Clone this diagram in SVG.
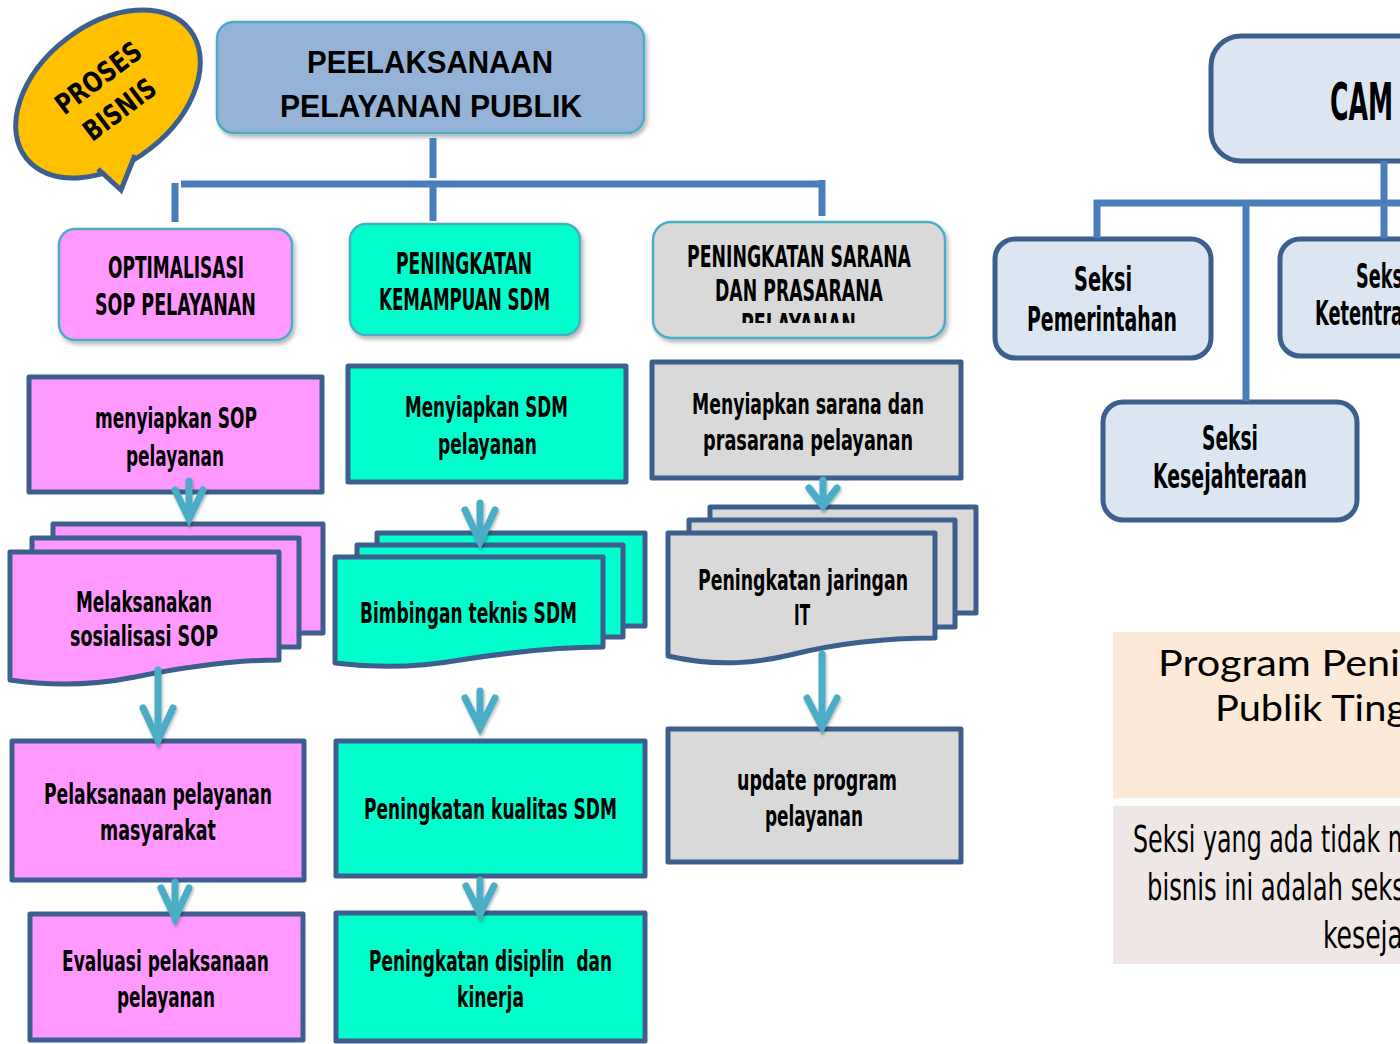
<svg xmlns="http://www.w3.org/2000/svg" width="1400" height="1044" viewBox="0 0 1400 1044">
<defs>
<filter id="sh" x="-10%" y="-10%" width="130%" height="140%"><feDropShadow dx="2" dy="3" stdDeviation="2" flood-color="#000" flood-opacity="0.3"/></filter>
<filter id="ash" x="-50%" y="-20%" width="200%" height="150%"><feDropShadow dx="1" dy="2" stdDeviation="1.5" flood-color="#000" flood-opacity="0.3"/></filter>
<clipPath id="clipL2"><rect x="653" y="222" width="293" height="101"/></clipPath>
<style>
.t{font-family:"Liberation Sans Narrow","DejaVu Sans Condensed","Liberation Sans",sans-serif;font-stretch:condensed;font-weight:bold;fill:#000;text-anchor:middle;font-size:28px}
.l2{font-size:30px}
.sk{font-size:33px}
.ttl{font-family:"Liberation Sans","Open Sans",sans-serif;font-weight:700;font-size:32px;text-anchor:middle;fill:#000}
.prg{font-family:Lato,"Open Sans","Liberation Sans",sans-serif;font-weight:normal;font-size:37px;fill:#000}
.nr{font-family:"Liberation Sans Narrow","DejaVu Sans Condensed","Liberation Sans",sans-serif;font-stretch:condensed;font-weight:normal;font-size:38px;fill:#000}
.lb{stroke:#4BACC6;stroke-width:2.5}
.db{stroke:#3C5F8E;stroke-width:5;stroke-linejoin:round}
.pk{fill:#FF99FF}
.cy{fill:#00FFCC}
.gr{fill:#D9D9D9}
.bl{fill:#DCE6F2}
.ln{stroke:#4A7EBB;stroke-width:7;fill:none}
.ar{stroke:#4BACC6;stroke-width:7;fill:none;stroke-linecap:round;stroke-linejoin:miter;stroke-miterlimit:10;filter:url(#ash)}
</style>
</defs>
<rect width="1400" height="1044" fill="#fff"/>

<g id="bubble">
<ellipse cx="108" cy="94" rx="104" ry="69" transform="rotate(-38 108 94)" fill="#FFC000" stroke="#3C5F8E" stroke-width="5"/>
<polygon points="94,160 121,190 140,148" fill="#FFC000"/>
<polyline points="98,169 121,190 135,155" fill="none" stroke="#3C5F8E" stroke-width="5" stroke-linejoin="miter"/>
<g transform="translate(108 94) rotate(-37)">
<text class="t" x="2" y="-9" textLength="100" lengthAdjust="spacingAndGlyphs">PROSES</text>
<text class="t" x="0" y="29" textLength="83" lengthAdjust="spacingAndGlyphs">BISNIS</text>
</g>
</g>

<g id="title">
<rect x="217" y="22" width="427" height="111" rx="17" fill="#95B3D7" class="lb" filter="url(#sh)"/>
<text class="ttl" x="430" y="73" textLength="246" lengthAdjust="spacingAndGlyphs">PEELAKSANAAN</text>
<text class="ttl" x="431" y="117" textLength="302" lengthAdjust="spacingAndGlyphs">PELAYANAN PUBLIK</text>
</g>

<g id="l2-sop">
<rect x="59" y="229" width="233" height="111" rx="16" class="pk lb" filter="url(#sh)"/>
<text class="t l2" x="176" y="278" textLength="136" lengthAdjust="spacingAndGlyphs">OPTIMALISASI</text>
<text class="t l2" x="175.5" y="315" textLength="161" lengthAdjust="spacingAndGlyphs">SOP PELAYANAN</text>
</g>
<g id="l2-sdm">
<rect x="350" y="224" width="230" height="111" rx="16" class="cy lb" filter="url(#sh)"/>
<text class="t l2" x="464" y="274" textLength="136" lengthAdjust="spacingAndGlyphs">PENINGKATAN</text>
<text class="t l2" x="464.5" y="310" textLength="171" lengthAdjust="spacingAndGlyphs">KEMAMPUAN SDM</text>
</g>
<g id="l2-sarana">
<rect x="653" y="222" width="292" height="116" rx="18" class="gr lb" filter="url(#sh)"/>
<text class="t l2" x="799" y="267" textLength="224" lengthAdjust="spacingAndGlyphs">PENINGKATAN SARANA</text>
<text class="t l2" x="799" y="301" textLength="168" lengthAdjust="spacingAndGlyphs">DAN PRASARANA</text>
<text class="t l2" x="798.5" y="335" textLength="115" lengthAdjust="spacingAndGlyphs" clip-path="url(#clipL2)">PELAYANAN</text>
</g>

<g id="c1-menyiapkan-sop">
<rect x="29" y="377" width="293" height="115" class="pk db"/>
<text class="t" x="176" y="428" textLength="162" lengthAdjust="spacingAndGlyphs">menyiapkan SOP</text>
<text class="t" x="175" y="466" textLength="98" lengthAdjust="spacingAndGlyphs">pelayanan</text>
</g>
<g id="c1-sosialisasi">
<rect x="53" y="524" width="270" height="109" class="pk db"/>
<rect x="32" y="538" width="267" height="109" class="pk db"/>
<path d="M10,552 H279 V660 C230,660 180,668 135,677 C90,686 50,686 10,680 Z" class="pk db"/>
<text class="t" x="144" y="612" textLength="136" lengthAdjust="spacingAndGlyphs">Melaksanakan</text>
<text class="t" x="144" y="646" textLength="148" lengthAdjust="spacingAndGlyphs">sosialisasi SOP</text>
</g>
<g id="c1-pelaksanaan">
<rect x="12" y="741" width="292" height="139" class="pk db"/>
<text class="t" x="158" y="804" textLength="228" lengthAdjust="spacingAndGlyphs">Pelaksanaan pelayanan</text>
<text class="t" x="158" y="840" textLength="116" lengthAdjust="spacingAndGlyphs">masyarakat</text>
</g>
<g id="c1-evaluasi">
<rect x="30" y="914" width="273" height="126" class="pk db"/>
<text class="t" x="165.5" y="971" textLength="207" lengthAdjust="spacingAndGlyphs">Evaluasi pelaksanaan</text>
<text class="t" x="166" y="1007" textLength="98" lengthAdjust="spacingAndGlyphs">pelayanan</text>
</g>

<g id="c2-menyiapkan-sdm">
<rect x="348" y="366" width="278" height="116" class="cy db"/>
<text class="t" x="486.5" y="417" textLength="163" lengthAdjust="spacingAndGlyphs">Menyiapkan SDM</text>
<text class="t" x="487.5" y="454" textLength="99" lengthAdjust="spacingAndGlyphs">pelayanan</text>
</g>
<g id="c2-bimtek">
<rect x="377" y="533" width="268" height="93" class="cy db"/>
<rect x="357" y="545" width="266" height="92" class="cy db"/>
<path d="M335,557 H603 V647 C555,647 505,653 460,660 C415,668 375,668 335,663 Z" class="cy db"/>
<text class="t" x="468.5" y="623" textLength="217" lengthAdjust="spacingAndGlyphs">Bimbingan teknis SDM</text>
</g>
<g id="c2-kualitas">
<rect x="336" y="741" width="309" height="135" class="cy db"/>
<text class="t" x="490.5" y="819" textLength="253" lengthAdjust="spacingAndGlyphs">Peningkatan kualitas SDM</text>
</g>
<g id="c2-disiplin">
<rect x="336" y="913" width="309" height="128" class="cy db"/>
<text class="t" x="490.5" y="971" textLength="243" lengthAdjust="spacingAndGlyphs" style="white-space:pre">Peningkatan disiplin  dan</text>
<text class="t" x="490.5" y="1007" textLength="67" lengthAdjust="spacingAndGlyphs">kinerja</text>
</g>

<g id="c3-menyiapkan-sarana">
<rect x="652" y="362" width="309" height="116" class="gr db"/>
<text class="t" x="808" y="414" textLength="232" lengthAdjust="spacingAndGlyphs">Menyiapkan sarana dan</text>
<text class="t" x="808" y="450" textLength="210" lengthAdjust="spacingAndGlyphs">prasarana pelayanan</text>
</g>
<g id="c3-jaringan">
<rect x="710" y="507" width="266" height="106" class="gr db"/>
<rect x="689" y="520" width="266" height="107" class="gr db"/>
<path d="M668,533 H935 V638 C880,638 830,645 790,655 C760,662 720,668 668,656 Z" class="gr db"/>
<text class="t" x="803" y="590" textLength="210" lengthAdjust="spacingAndGlyphs">Peningkatan jaringan</text>
<text class="t" x="802" y="625" textLength="16" lengthAdjust="spacingAndGlyphs">IT</text>
</g>
<g id="c3-update">
<rect x="668" y="729" width="293" height="133" class="gr db"/>
<text class="t" x="817" y="790" textLength="160" lengthAdjust="spacingAndGlyphs">update program</text>
<text class="t" x="814" y="826" textLength="98" lengthAdjust="spacingAndGlyphs">pelayanan</text>
</g>

<g id="camat">
<rect x="1211" y="36" width="320" height="125" rx="30" class="bl db"/>
<text class="t" x="1330" y="120" style="text-anchor:start;font-size:52px" textLength="63" lengthAdjust="spacingAndGlyphs">CAM</text>
</g>
<g id="seksi-pemerintahan">
<rect x="995" y="239" width="216" height="119" rx="20" class="bl db"/>
<text class="t sk" x="1103" y="291" textLength="58" lengthAdjust="spacingAndGlyphs">Seksi</text>
<text class="t sk" x="1102" y="331" textLength="150" lengthAdjust="spacingAndGlyphs">Pemerintahan</text>
</g>
<g id="seksi-ketentraman">
<rect x="1280" y="239" width="240" height="117" rx="20" class="bl db"/>
<text class="t sk" x="1356" y="288" style="text-anchor:start" textLength="47" lengthAdjust="spacingAndGlyphs">Seks</text>
<text class="t sk" x="1315" y="325" style="text-anchor:start" textLength="88" lengthAdjust="spacingAndGlyphs">Ketentra</text>
</g>
<g id="seksi-kesejahteraan">
<rect x="1103" y="402" width="254" height="118" rx="20" class="bl db"/>
<text class="t sk" x="1230" y="450" textLength="56" lengthAdjust="spacingAndGlyphs">Seksi</text>
<text class="t sk" x="1230" y="488" textLength="154" lengthAdjust="spacingAndGlyphs">Kesejahteraan</text>
</g>

<g id="note-program">
<rect x="1113" y="632" width="300" height="166" fill="#FCE9D7"/>
<text class="prg" x="1158" y="676" textLength="242" lengthAdjust="spacingAndGlyphs">Program Peni</text>
<text class="prg" x="1215" y="721" textLength="192" lengthAdjust="spacingAndGlyphs">Publik Ting</text>
</g>
<g id="note-seksi">
<rect x="1113" y="806" width="300" height="158" fill="#EEE7E5"/>
<text class="nr" x="1133" y="852" textLength="278" lengthAdjust="spacingAndGlyphs">Seksi yang ada tidak m</text>
<text class="nr" x="1147" y="900" textLength="258" lengthAdjust="spacingAndGlyphs">bisnis ini adalah seks</text>
<text class="nr" x="1323" y="948" textLength="80" lengthAdjust="spacingAndGlyphs">keseja</text>
</g>

<g id="connectors">
<path class="ln" d="M433,138 V178 M181,184 H825 M175,183 V222 M433,184 V221 M822,180 V216"/>
<path class="ln" d="M1384,161 V238 M1094,203 H1400 M1097,200 V238 M1246,203 V401"/>
<path class="ar" d="M189,481 V519 M175,490 L189,519 L203,490"/>
<path class="ar" d="M158,670 V740 M143,708 L158,740 L173,708"/>
<path class="ar" d="M175,882 V918 M161,888 L175,918 L189,888"/>
<path class="ar" d="M480,503 V542 M465,510 L480,542 L495,510"/>
<path class="ar" d="M480,691 V728 M465,698 L480,728 L495,698"/>
<path class="ar" d="M480,880 V914 M466,886 L480,914 L494,886"/>
<path class="ar" d="M823,480 V506 M809,488 L823,506 L837,488"/>
<path class="ar" d="M822,654 V727 M807,698 L822,727 L837,698"/>
</g>
</svg>
